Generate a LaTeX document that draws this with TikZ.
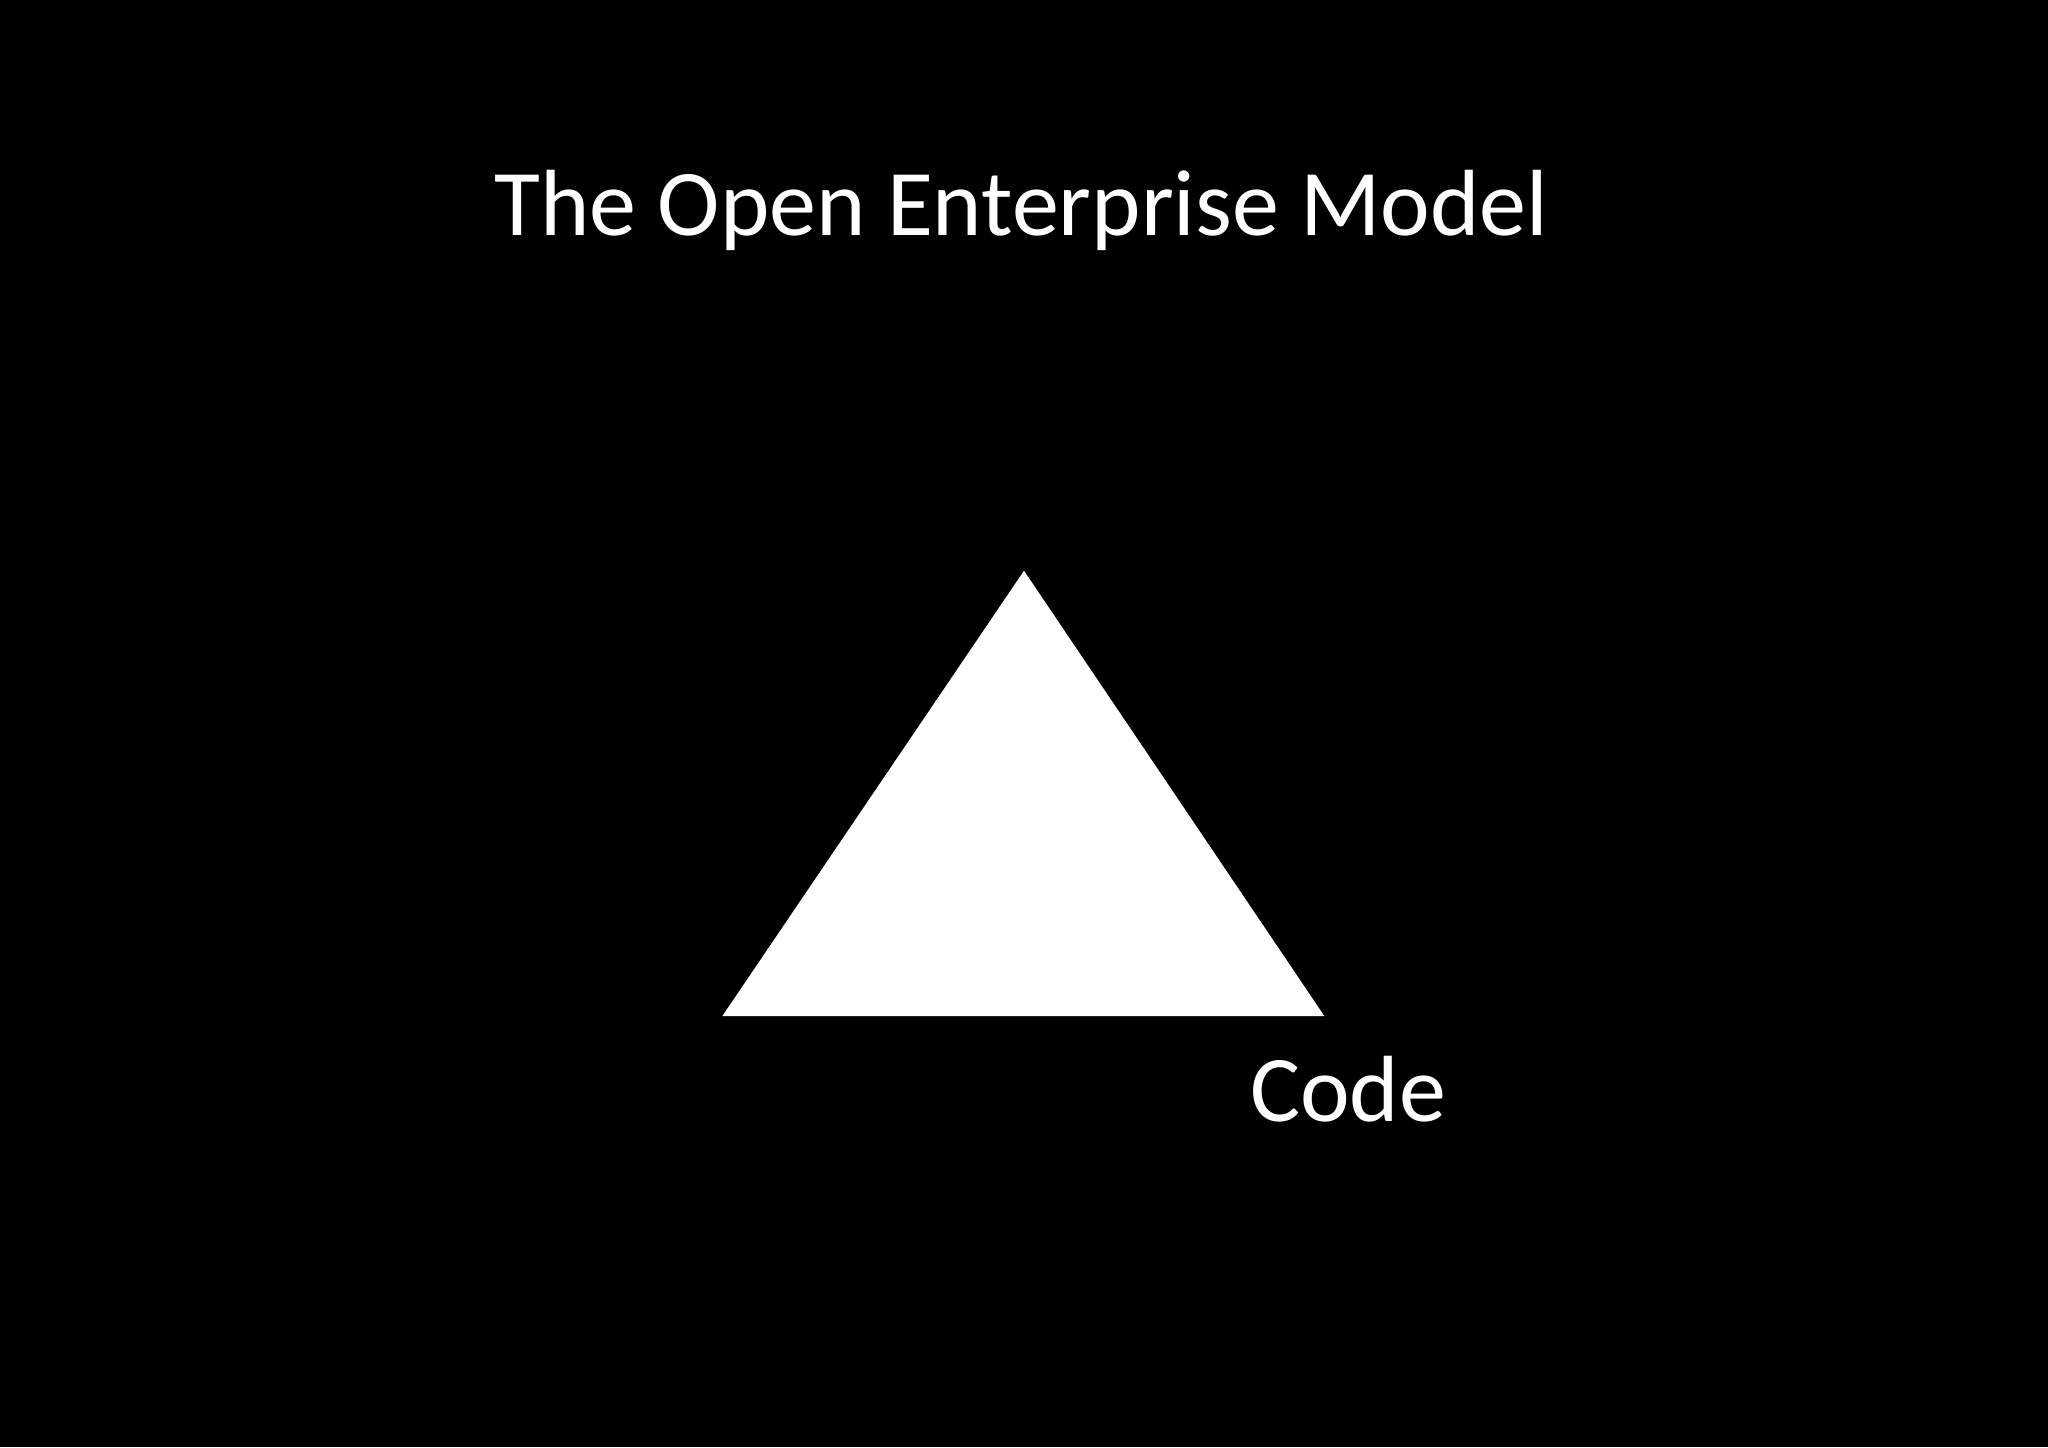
\documentclass[tikz,border=0pt]{standalone}
\usepackage{fontspec}
\setmainfont{Carlito}
\begin{document}
\begin{tikzpicture}[x=1pt,y=-1pt,lbl/.style={text=white,font=\fontsize{72}{80}\selectfont,inner sep=0pt,anchor=base west}]
\fill[black] (0,0) rectangle (1568,1108);
\useasboundingbox (0,0) rectangle (1568,1108);
\node[lbl,anchor=base] (title) at (782,180) {The Open Enterprise Model};
\coordinate (apex) at (784,437);
\coordinate (bl) at (553,778);
\coordinate (br) at (1014,778);
\fill[white] (apex) -- (br) -- (bl) -- cycle;
\node[lbl] (code) at (957,859) {Code};
\end{tikzpicture}
\end{document}
